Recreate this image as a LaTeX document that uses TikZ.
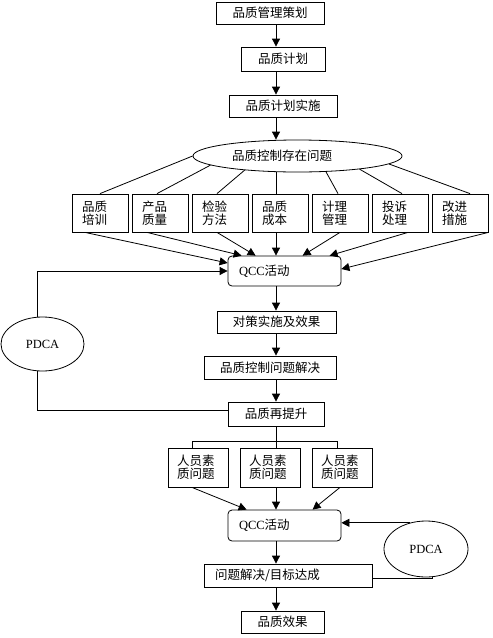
\documentclass[tikz,border=0pt]{standalone}
\usepackage{fontspec}
\setmainfont{Liberation Serif}
\newfontfamily\cjk{Noto Sans CJK SC}
\usetikzlibrary{arrows.meta}
\usetikzlibrary{shapes.geometric}

\begin{document}
\begin{tikzpicture}[x=1pt,y=-1pt,line width=0.8pt,
  box/.style={draw,inner sep=0pt,font=\cjk\fontsize{12.5}{13}\selectfont},
  twoline/.style={box,minimum width=56pt,minimum height=38pt,text width=36pt,align=left},
  staff/.style={box,minimum width=60pt,minimum height=39pt,text width=42pt,align=left},
  qcc/.style={draw,rounded corners=4pt,inner sep=0pt,minimum width=113pt,text width=91pt,align=left,font=\fontsize{12.5}{13}\selectfont},
  oval/.style={draw,ellipse,inner sep=0pt,font=\fontsize{12.5}{13}\selectfont},
  arr/.style={-{Triangle[length=8pt,width=8pt]}}]
                \useasboundingbox (0,0) rectangle (493,638);
                \coordinate (axis) at (276,0);
                \node[box,minimum width=108pt,minimum height=22pt] (a) at (270,13) {品质管理策划};
                \node[box,minimum width=84pt,minimum height=24pt] (b) at (283,59) {品质计划};
                \node[box,minimum width=108pt,minimum height=22pt] (c) at (283,106) {品质计划实施};
                \node[oval,font=\cjk\fontsize{12.5}{13}\selectfont,minimum width=209pt,minimum height=32pt,text width=131pt,align=left] (e) at (297.5,156) {品质控制存在问题};
                \node[twoline] (t1) at (100,213) {品质\\培训};
                \node[twoline] (t2) at (160,213) {产品\\质量};
                \node[twoline] (t3) at (220,213) {检验\\方法};
                \node[twoline] (t4) at (280,213) {品质\\成本};
                \node[twoline] (t5) at (340,213) {计理\\管理};
                \node[twoline] (t6) at (400,213) {投诉\\处理};
                \node[twoline] (t7) at (460,213) {改进\\措施};
                \node[qcc,minimum height=30pt] (q1) at (284.5,271) {QCC{\cjk 活动}};
                \node[box,minimum width=119pt,minimum height=22pt] (c1) at (276.5,322) {对策实施及效果};
                \node[box,minimum width=132pt,minimum height=23pt] (c2) at (270,367.5) {品质控制问题解决};
                \node[box,minimum width=96pt,minimum height=24pt] (c3) at (276,414) {品质再提升};
                \node[oval,minimum width=83pt,minimum height=54pt] (p1) at (42.5,344) {PDCA};
                \node[staff] (r1) at (198,467.5) {人员素\\质问题};
                \node[staff] (r2) at (270,467.5) {人员素\\质问题};
                \node[staff] (r3) at (342,467.5) {人员素\\质问题};
                \node[qcc,minimum height=31pt] (q2) at (284.5,525.5) {QCC{\cjk 活动}};
                \node[box,minimum width=168pt,minimum height=23pt,text width=146pt,align=left] (d) at (288,575.5) {问题解决/目标达成};
                \node[box,minimum width=83pt,minimum height=22pt] (f) at (282.5,622) {品质效果};
                \node[oval,minimum width=84pt,minimum height=56pt] (p2) at (426,549) {PDCA};
                \draw[arr] (axis |- a.south) -- (axis |- b.north);
                \draw[arr] (axis |- b.south) -- (axis |- c.north);
                \draw[arr] (axis |- c.south) -- (axis |- e.north);
                \draw (e.west) -- (t1.north);
                \draw (e.186) -- ([xshift=-3pt]t2.north);
                \draw (e.195) -- ([xshift=-3pt]t3.north);
                \draw (axis |- e.south) -- (axis |- t4.north);
                \draw (e.331) -- ([xshift=-2pt]t5.north);
                \draw (e.348) -- ([xshift=2pt]t6.north);
                \draw (e.355) -- ([xshift=10pt]t7.north);
                \draw[arr] ([xshift=-15pt]t1.south) -- ([yshift=8pt]q1.west);
                \draw[arr] ([xshift=-13pt]t2.south) -- ([xshift=14pt]q1.north west);
                \draw[arr] ([xshift=-3pt]t3.south) -- ([xshift=28pt]q1.north west);
                \draw[arr] (axis |- t4.south) -- (axis |- q1.north);
                \draw[arr] (t5.south) -- ([xshift=75pt]q1.north west);
                \draw[arr] ([xshift=8pt]t6.south) -- ([xshift=102pt]q1.north west);
                \draw[arr] (t7.south east) -- ([yshift=2pt]q1.east);
                \draw[arr] (axis |- q1.south) -- (axis |- c1.north);
                \draw[arr] (axis |- c1.south) -- (axis |- c2.north);
                \draw[arr] (axis |- c2.south) -- (axis |- c3.north);
                \draw[arr] (p1.100) |- (q1.west);
                \draw (p1.260) |- ([yshift=4pt]c3.west);
                \draw (axis |- c3.south) -- (axis |- r2.north);
                \draw ([xshift=-6pt]r1.north) -- ++(0,-6) -| ([xshift=-5pt]r3.north);
                \draw[arr] ([xshift=-6pt]r1.south) -- ([xshift=19pt]q2.north west);
                \draw[arr] (axis |- r2.south) -- (axis |- q2.north);
                \draw[arr] ([xshift=-2pt]r3.south) -- ([xshift=85pt]q2.north west);
                \draw[arr] (axis |- q2.south) -- (axis |- d.north);
                \draw[arr] (axis |- d.south) -- (axis |- f.north);
                \draw[arr] (p2.122) -- (p2.122 -| q2.east);
                \draw ([yshift=-3pt]d.east) -| (p2.282);
              \end{tikzpicture}
\end{document}
